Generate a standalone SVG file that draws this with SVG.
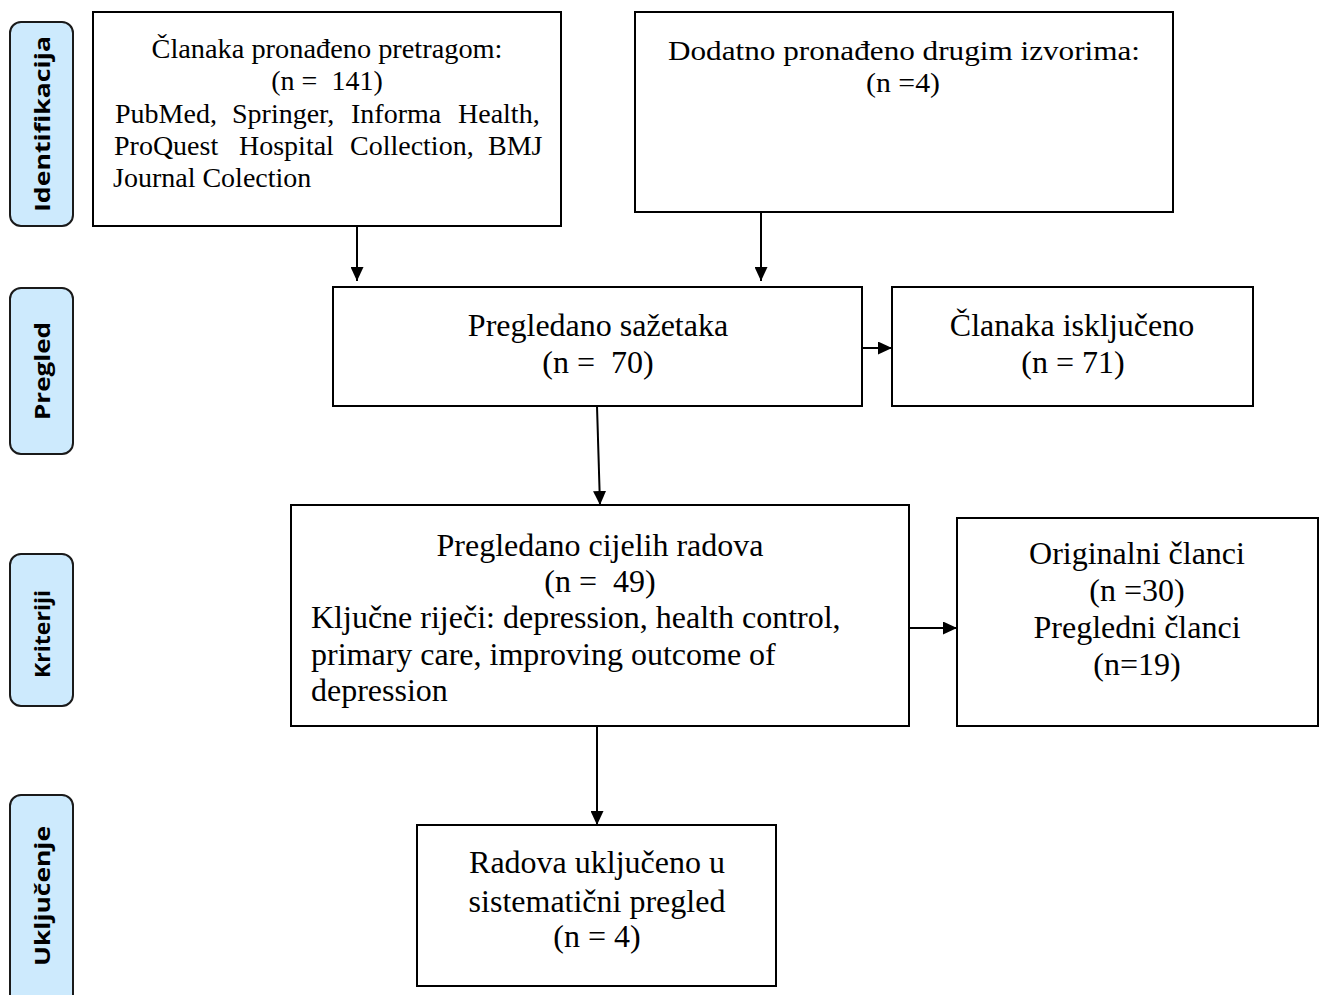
<svg xmlns="http://www.w3.org/2000/svg" width="1324" height="995" viewBox="0 0 1324 995">
<style>
.box{fill:#fff;stroke:#000;stroke-width:2}
.pill{fill:#cdeafd;stroke:#1a1a1a;stroke-width:2}
.t{font-family:"Liberation Serif","Times New Roman",serif;font-size:32px;fill:#000}
.g{font-family:"Liberation Serif","Times New Roman",serif;font-size:28px;fill:#000}
.c{text-anchor:middle}
.lab{font-family:"Open Sans","Liberation Sans",sans-serif;font-weight:bold;font-size:22px;fill:#000;text-anchor:middle}
.conn{stroke:#000;stroke-width:2;fill:none;marker-end:url(#ah)}
</style>
<defs>
<marker id="ah" markerUnits="userSpaceOnUse" markerWidth="15" markerHeight="13" refX="14" refY="6.5" orient="auto">
<path d="M0,0 L14,6.5 L0,13 z" fill="#000"/>
</marker>
</defs>
<rect width="1324" height="995" fill="#fff"/>

<g id="stage-identifikacija">
<rect class="pill" x="10" y="22" width="63" height="204" rx="11"/>
<text class="lab" transform="translate(50,124) rotate(-90)" textLength="176" lengthAdjust="spacingAndGlyphs">Identifikacija</text>
</g>
<g id="stage-pregled">
<rect class="pill" x="10" y="288" width="63" height="166" rx="11"/>
<text class="lab" transform="translate(50,371) rotate(-90)" textLength="98" lengthAdjust="spacingAndGlyphs">Pregled</text>
</g>
<g id="stage-kriteriji">
<rect class="pill" x="10" y="554" width="63" height="152" rx="11"/>
<text class="lab" transform="translate(50,634) rotate(-90)" textLength="88" lengthAdjust="spacingAndGlyphs">Kriteriji</text>
</g>
<g id="stage-ukljucenje">
<rect class="pill" x="10" y="795" width="63" height="220" rx="11"/>
<text class="lab" transform="translate(50,896) rotate(-90)" textLength="140" lengthAdjust="spacingAndGlyphs">Uključenje</text>
</g>

<g id="n-pretraga">
<rect class="box" x="93" y="12" width="468" height="214"/>
<text class="g c" x="327" y="58" textLength="351" lengthAdjust="spacingAndGlyphs">Članaka pronađeno pretragom:</text>
<text class="g c" x="327" y="90" xml:space="preserve">(n =  141)</text>
<text class="g" y="123"><tspan x="115">PubMed,</tspan><tspan x="232">Springer,</tspan><tspan x="351">Informa</tspan><tspan x="458">Health,</tspan></text>
<text class="g" y="155"><tspan x="114">ProQuest</tspan><tspan x="239">Hospital</tspan><tspan x="350">Collection,</tspan><tspan x="488">BMJ</tspan></text>
<text class="g" x="113" y="187">Journal Colection</text>
</g>

<g id="n-dodatno">
<rect class="box" x="635" y="12" width="538" height="200"/>
<text class="g c" x="904" y="60" textLength="472" lengthAdjust="spacingAndGlyphs">Dodatno pronađeno drugim izvorima:</text>
<text class="g c" x="903" y="92" textLength="74" lengthAdjust="spacingAndGlyphs">(n =4)</text>
</g>

<g id="n-sazetaka">
<rect class="box" x="333" y="287" width="529" height="119"/>
<text class="t c" x="598" y="336">Pregledano sažetaka</text>
<text class="t c" x="598" y="373" xml:space="preserve">(n =  70)</text>
</g>

<g id="n-iskljuceno">
<rect class="box" x="892" y="287" width="361" height="119"/>
<text class="t c" x="1072" y="336">Članaka isključeno</text>
<text class="t c" x="1073" y="373">(n = 71)</text>
</g>

<g id="n-cijelih">
<rect class="box" x="291" y="505" width="618" height="221"/>
<text class="t c" x="600" y="556">Pregledano cijelih radova</text>
<text class="t c" x="600" y="592" xml:space="preserve">(n =  49)</text>
<text class="t" x="311" y="628">Ključne riječi: depression, health control,</text>
<text class="t" x="311" y="665">primary care, improving outcome of</text>
<text class="t" x="311" y="701">depression</text>
</g>

<g id="n-clanci">
<rect class="box" x="957" y="518" width="361" height="208"/>
<text class="t c" x="1137" y="564">Originalni članci</text>
<text class="t c" x="1137" y="601">(n =30)</text>
<text class="t c" x="1137" y="638">Pregledni članci</text>
<text class="t c" x="1137" y="675">(n=19)</text>
</g>

<g id="n-ukljuceno">
<rect class="box" x="417" y="825" width="359" height="161"/>
<text class="t c" x="597" y="873">Radova uključeno u</text>
<text class="t c" x="597" y="912">sistematični pregled</text>
<text class="t c" x="597" y="947">(n = 4)</text>
</g>

<g id="connectors">
<line class="conn" x1="357" y1="226" x2="357" y2="281"/>
<line class="conn" x1="761" y1="212" x2="761" y2="281"/>
<line class="conn" x1="862" y1="348" x2="892" y2="348"/>
<line class="conn" x1="597" y1="406" x2="600" y2="505"/>
<line class="conn" x1="909" y1="628" x2="957" y2="628"/>
<line class="conn" x1="597" y1="726" x2="597" y2="825"/>
</g>
</svg>
